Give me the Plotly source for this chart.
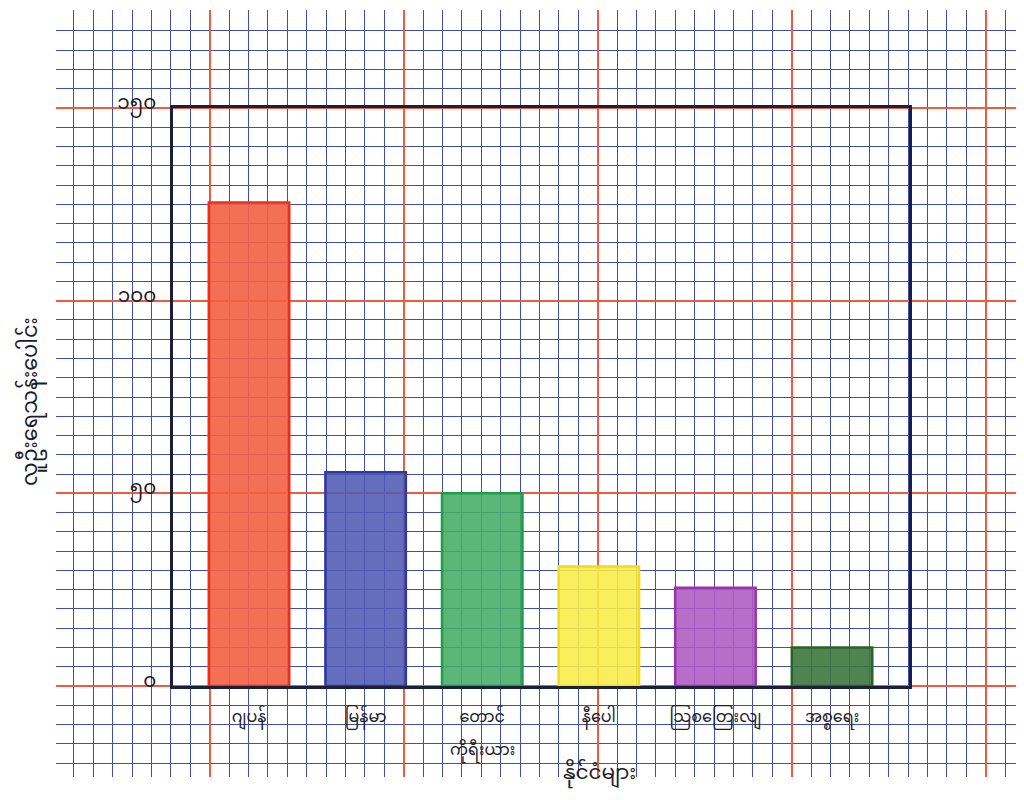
import plotly.graph_objects as go

# ---- data ----
countries = ["ဂျပန်", "မြန်မာ", "တောင်", "နီပေါ", "သြစတြေးလျ", "အစ္စရေး"]
country_second_line = ["", "", "ကိုရီးယား", "", "", ""]
population = [125.5, 55.5, 50, 31, 25.5, 10]
y_tickvals = [0, 50, 100, 150]
y_ticktext = ["၀", "၅၀", "၁၀၀", "၁၅၀"]
fill_colors = ["rgba(242,96,66,0.90)", "rgba(80,90,180,0.88)", "rgba(70,172,100,0.88)",
               "rgba(248,236,70,0.88)", "rgba(172,90,192,0.88)", "rgba(60,118,60,0.90)"]
edge_colors = ["#e8301c", "#2f3a9c", "#1f9e48", "#f0dc18", "#9a34ae", "#2a632a"]
y_title = "လူဦးရေသန်းပေါင်း"
x_title = "နိုင်ငံများ"

BLUE = "#3f4fb4"
RED = "#f25a40"
FONT = "Noto Sans Myanmar, Padauk, Myanmar Text, Noto Sans, DejaVu Sans, sans-serif"
TXT = "#1d1d2a"

W, H = 1024, 800
OX, OY = 7, 8  # page offset compensation


def px(x):
    return (x - OX) / W


def py(y):
    return 1 - (y - OY) / H


# graph-paper line positions (decoration only)
CELL = 19.4
X0 = 208.7
gx0, gx1 = 65, 1024 + OX
paper_minor_x = [round(X0 + k * CELL, 2) for k in range(-8, 45) if k % 10 != 0]
paper_major_x = [round(X0 + k * CELL, 2) for k in range(-8, 45) if k % 10 == 0]
paper_minor_y = [v for v in range(-20, 171, 5) if v % 50 != 0]
paper_major_y = [v for v in range(-20, 171, 5) if v % 50 == 0]

fig = go.Figure()
# graph-paper layers (empty traces just to register the subplots)
for i in range(1, 5):
    s = "" if i == 1 else str(i)
    fig.add_trace(go.Scatter(x=[], y=[], xaxis="x" + s, yaxis="y" + s,
                             showlegend=False, hoverinfo="skip"))

fig.add_trace(go.Bar(
    x=countries, y=population, xaxis="x5", yaxis="y5",
    marker=dict(color=fill_colors, line=dict(color=edge_colors, width=2.5)),
    width=0.69, showlegend=False,
))

hidden = dict(showticklabels=False, ticks="", zeroline=False, showline=False, automargin=False)


def vgrid(vals, color, width):
    return dict(domain=[px(gx0), 1], range=[gx0, gx1], showgrid=True, gridcolor=color,
                gridwidth=width, tickmode="array", tickvals=vals, **hidden)


def vgrid_y():
    return dict(domain=[py(777), py(10)], range=[0, 1], showgrid=False, **hidden)


def hgrid_x():
    return dict(domain=[px(55), 1], range=[0, 1], showgrid=False, **hidden)


def hgrid(vals, color, width):
    return dict(domain=[py(765), py(29)], range=[-20.5, 170.5], showgrid=True, gridcolor=color,
                gridwidth=width, tickmode="array", tickvals=vals, **hidden)


annotations = [
    dict(text=y_title, xref="paper", yref="paper", x=px(31), y=py(402),
         textangle=-90, showarrow=False, font=dict(size=21, color=TXT),
         xanchor="center", yanchor="middle"),
    dict(text=x_title, xref="paper", yref="paper", x=px(598), y=py(774),
         showarrow=False, font=dict(size=20, color=TXT),
         xanchor="center", yanchor="middle"),
]
for c, second in zip(countries, country_second_line):
    if second:
        annotations.append(dict(text=second, xref="x5", yref="paper", x=c, y=py(751),
                                showarrow=False, font=dict(size=16, color=TXT),
                                xanchor="center", yanchor="middle"))

fig.update_layout(
    width=W, height=H,
    margin=dict(l=0, r=0, t=0, b=0, autoexpand=False),
    paper_bgcolor="white",
    plot_bgcolor="rgba(0,0,0,0)",
    font=dict(family=FONT, color=TXT),
    # blue vertical lines
    xaxis=dict(anchor="y", **vgrid(paper_minor_x, BLUE, 1.4)),
    yaxis=dict(anchor="x", **vgrid_y()),
    # blue horizontal lines
    xaxis2=dict(anchor="y2", **hgrid_x()),
    yaxis2=dict(anchor="x2", **hgrid(paper_minor_y, BLUE, 1.4)),
    # red vertical lines
    xaxis3=dict(anchor="y3", **vgrid(paper_major_x, RED, 1.6)),
    yaxis3=dict(anchor="x3", **vgrid_y()),
    # red horizontal lines
    xaxis4=dict(anchor="y4", **hgrid_x()),
    yaxis4=dict(anchor="x4", **hgrid(paper_major_y, RED, 1.6)),
    # chart frame and bars
    xaxis5=dict(domain=[px(172), px(908)], type="category", range=[-0.652, 5.66], anchor="y5",
                showgrid=False, zeroline=False, showline=True, mirror=True, automargin=False,
                linecolor="#1c1f3a", linewidth=2.5, ticks="",
                ticklabelstandoff=14, tickfont=dict(size=16, color=TXT)),
    yaxis5=dict(domain=[py(686), py(108)], range=[0, 150], anchor="x5",
                showgrid=False, zeroline=False, showline=True, mirror=True, automargin=False,
                linecolor="#1c1f3a", linewidth=2.5, ticks="",
                tickvals=y_tickvals, ticktext=y_ticktext,
                ticklabelstandoff=10, ticklabelshift=-6,
                tickfont=dict(size=20, color=TXT)),
    annotations=annotations,
)

fig.write_html("out.html")
